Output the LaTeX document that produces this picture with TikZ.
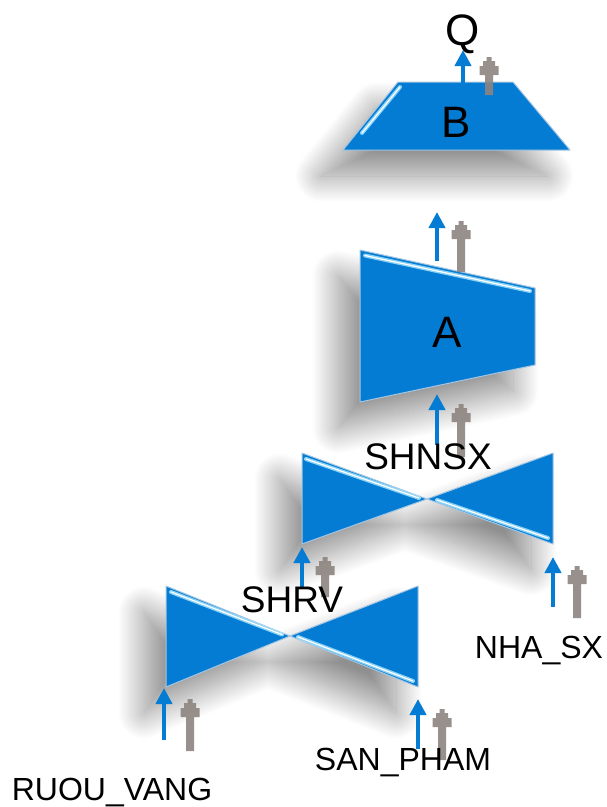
\documentclass[tikz,border=0pt]{standalone}
\usepackage{fontspec}
\setmainfont{Liberation Sans}
\usetikzlibrary{arrows.meta,shadows.blur}
\definecolor{opblue}{RGB}{4,124,212}
\definecolor{opedge}{RGB}{165,198,226}
\definecolor{shine}{RGB}{170,232,255}
\definecolor{arrgray}{RGB}{141,132,127}

\begin{document}
\begin{tikzpicture}[x=1pt,y=-1pt,
  op/.style={fill=opblue,draw=opedge,line width=1pt,line join=round,
    blur shadow={shadow xshift=-22pt,shadow yshift=-26pt,shadow blur radius=26pt,
      shadow blur steps=36,shadow opacity=44}},
  glow/.style={shine,line width=4pt,line cap=round,opacity=0.8},
  glowcore/.style={white,line width=1.2pt,line cap=round},
  bigtxt/.style={font=\fontsize{44}{48}\selectfont,anchor=base},
  jointxt/.style={font=\fontsize{37}{40}\selectfont,anchor=base},
  reltxt/.style={font=\fontsize{32}{36}\selectfont,anchor=base},
  flow/.style={opblue,line width=4.5pt,-{Triangle[width=16pt,length=16pt]}}]
\useasboundingbox (0,0) rectangle (607,807);

  \foreach \l/\r/\t/\b/\cx/\cy in {166/418/586/687/290/636, 302/553/453/544/427/499} {
    \draw[op] (\l,\t) -- (\cx,\cy) -- (\r,\t) -- (\r,\b) -- (\cx,\cy) -- (\l,\b) -- cycle;
  }
  \draw[op] (360,250) -- (535,288) -- (535,365) -- (360,402) -- cycle;
  \draw[op] (398,82) -- (513,82) -- (570,150) -- (343,150) -- cycle;

  \foreach \xa/\ya/\xb/\yb in {171/592/282/634.5, 298/637/413/681, 306/459/419/498,
      437/500/548/538, 365/255.5/530/291, 400/87/362/133} {
    \draw[glow] (\xa,\ya) -- (\xb,\yb);
    \draw[glowcore] (\xa,\ya) -- (\xb,\yb);
  }

  \foreach \x/\lo/\hi/\g/\glo/\ghi in {463/83/50/489/95/57, 437/261/212/461/272/221,
      437/445/394/461/457/404, 302/587/547/325/597/557, 553/607/557/577/618/566,
      164/740/688/190/751/699, 418/749/699/442/760/709} {
    \draw[flow] (\x,\lo) -- (\x,\hi);
    \fill[arrgray,opacity=0.9] (\g-4,\glo) -- (\g-4,\ghi+18) -- (\g-9.5,\ghi+18)
      -- (\g-9.5,\ghi+9) -- (\g-6,\ghi+9) -- (\g-6,\ghi+4) -- (\g-2.5,\ghi+4)
      -- (\g-2.5,\ghi) -- (\g+2.5,\ghi) -- (\g+2.5,\ghi+4) -- (\g+6,\ghi+4)
      -- (\g+6,\ghi+9) -- (\g+9.5,\ghi+9) -- (\g+9.5,\ghi+18) -- (\g+4,\ghi+18)
      -- (\g+4,\glo) -- cycle;
  }

  \node[bigtxt] (Q) at (463,45) {Q};
  \node[bigtxt] (B) at (456,137) {B};
  \node[bigtxt] (A) at (447,347) {A};
  \node[jointxt] (shnsx) at (428,469) {SHNSX};
  \node[jointxt] (shrv) at (292,612) {SHRV};
  \node[reltxt] (nhasx) at (539,658) {NHA\_SX};
  \node[reltxt] (sanpham) at (403,770) {SAN\_PHAM};
  \node[reltxt] (ruouvang) at (112,800) {RUOU\_VANG};
\end{tikzpicture}
\end{document}
